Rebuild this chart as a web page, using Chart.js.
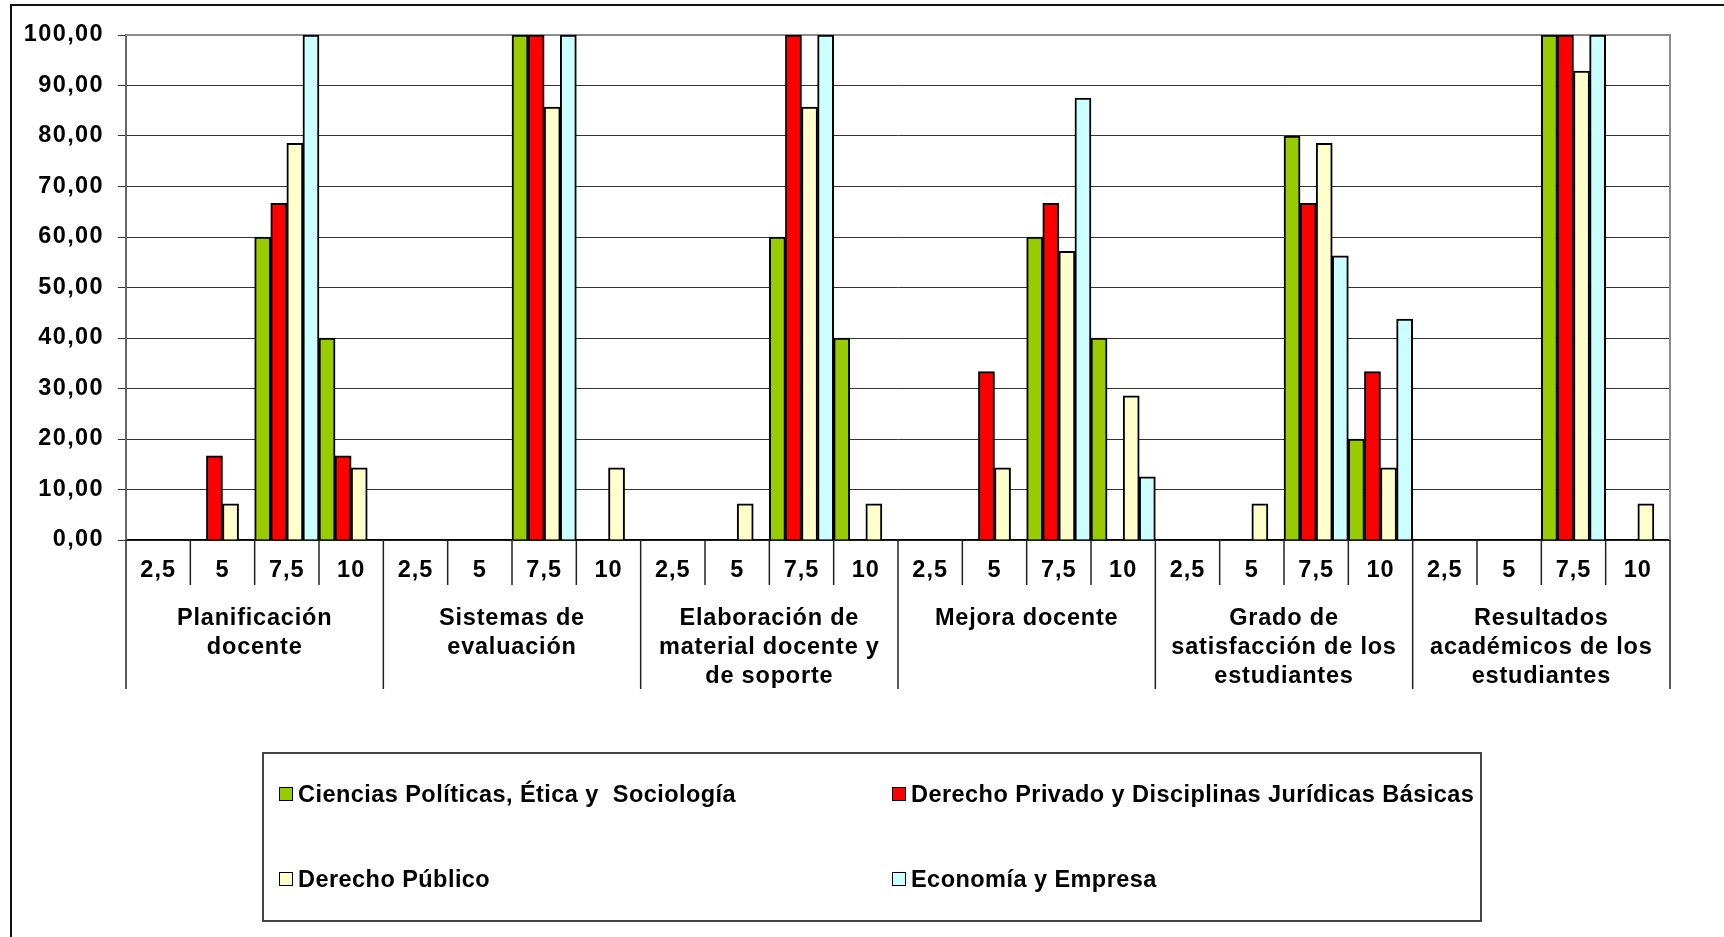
<!DOCTYPE html>
<html>
<head>
<meta charset="utf-8">
<script src="https://cdn.jsdelivr.net/npm/chart.js@4"></script>
<style>
  html, body { margin: 0; padding: 0; background: #fff; }
  #wrap { position: relative; width: 1724px; height: 937px; overflow: hidden; }
  #frame { position: absolute; left: 10px; top: 4px; width: 1800px; height: 1000px;
           border-left: 2px solid #111; border-top: 2px solid #111; }
  #chart { position: absolute; left: 0; top: 0; }
  #legend { position: absolute; left: 262px; top: 752px; width: 1220px; height: 170px;
            border: 2px solid #444; box-sizing: border-box;
            font: bold 23.5px "Liberation Sans", Arial, sans-serif; color: #000;
            letter-spacing: 0.45px; }
  .item { position: absolute; display: flex; align-items: center; white-space: pre; }
  .sw { width: 12px; height: 12px; border: 1.5px solid #000; margin-right: 5px; }
</style>
</head>
<body>
<div id="wrap">
  <div id="frame"></div>
  <canvas id="chart" width="1724" height="937"></canvas>
  <div id="legend"></div>
</div>
<script>
// scores given inside each block
const scores = ["2,5", "5", "7,5", "10"];
const groups = [
    ["Planificación", "docente"],
    ["Sistemas de", "evaluación"],
    ["Elaboración de", "material docente y", "de soporte"],
    ["Mejora docente"],
    ["Grado de", "satisfacción de los", "estudiantes"],
    ["Resultados", "académicos de los", "estudiantes"]
];

const seriesNames = [
    "Ciencias Políticas, Ética y  Sociología",
    "Derecho Privado y Disciplinas Jurídicas Básicas",
    "Derecho Público",
    "Economía y Empresa"
];
const seriesColors = ["#99cc00", "#ff0000", "#ffffcc", "#ccffff"];

// percentages, 24 values each (6 blocks x 4 scores)
const cienciasPoliticas = [0, 0, 60, 40,   0, 0, 100, 0,   0, 0, 60, 40,   0, 0, 60, 40,   0, 0, 80, 20,   0, 0, 100, 0];
const derechoPrivado   = [0, 16.67, 66.67, 16.67,   0, 0, 100, 0,   0, 0, 100, 0,   0, 33.33, 66.67, 0,   0, 0, 66.67, 33.33,   0, 0, 100, 0];
const derechoPublico   = [0, 7.14, 78.57, 14.29,   0, 0, 85.71, 14.29,   0, 7.14, 85.71, 7.14,   0, 14.29, 57.14, 28.57,   0, 7.14, 78.57, 14.29,   0, 0, 92.86, 7.14];
const economiaEmpresa  = [0, 0, 100, 0,   0, 0, 100, 0,   0, 0, 100, 0,   0, 0, 87.5, 12.5,   0, 0, 56.25, 43.75,   0, 0, 100, 0];

const yTicks = [0, 10, 20, 30, 40, 50, 60, 70, 80, 90, 100];

const labels = [];
groups.forEach(() => scores.forEach(s => labels.push(s)));
const groupLabels = groups;

const FONT = { family: '"Liberation Sans", Arial, sans-serif', size: 23.5, weight: 'bold' };
const spacing = { x: '1px', x2: '0.8px', y: '1.4px' };

// plot frame, separators under the x axis, wider label text
const framePlugin = {
    id: 'frame',
    afterLayout(chart) {
        Object.keys(spacing).forEach(id => {
            const s = chart.scales[id];
            if (!s || s._wrapped) return;
            const orig = s.drawLabels;
            s.drawLabels = function (area) {
                const c = this.ctx;
                const prev = c.letterSpacing;
                c.letterSpacing = spacing[id];
                orig.call(this, area);
                c.letterSpacing = prev || '0px';
            };
            s._wrapped = true;
        });
    },
    beforeDatasetsDraw(chart) {
        const { ctx, chartArea: a } = chart;
        ctx.save();
        ctx.strokeStyle = '#8c8c8c';
        ctx.lineWidth = 2;
        ctx.beginPath();
        ctx.moveTo(a.left, a.top);
        ctx.lineTo(a.right, a.top);
        ctx.lineTo(a.right, a.bottom);
        ctx.stroke();
        ctx.restore();
    },
    afterDraw(chart) {
        const { ctx, chartArea: a } = chart;
        const x = chart.scales.x;
        const x2 = chart.scales.x2;
        ctx.save();
        ctx.strokeStyle = '#222';
        ctx.lineWidth = 1.5;
        for (let i = 0; i <= labels.length; i++) {
            let px;
            if (i === 0) px = x.left;
            else if (i === labels.length) px = x.right;
            else px = (x.getPixelForValue(i - 1) + x.getPixelForValue(i)) / 2;
            const end = (i % scores.length === 0) ? x2.bottom : x.bottom - 3;
            ctx.beginPath();
            ctx.moveTo(px, a.bottom);
            ctx.lineTo(px, end);
            ctx.stroke();
        }
        ctx.restore();
    }
};

const datasets = [cienciasPoliticas, derechoPrivado, derechoPublico, economiaEmpresa].map((d, i) => ({
    label: seriesNames[i],
    data: d,
    backgroundColor: seriesColors[i],
    borderColor: '#000',
    borderWidth: 2,
    borderSkipped: 'bottom',
    barPercentage: 1,
    categoryPercentage: 1,
    xAxisID: 'x',
    yAxisID: 'y'
}));

new Chart(document.getElementById('chart').getContext('2d'), {
    type: 'bar',
    data: { labels: labels, datasets: datasets },
    options: {
        responsive: false,
        animation: false,
        layout: { padding: { left: 0, top: 35, right: 54, bottom: 248 } },
        plugins: { legend: { display: false }, tooltip: { enabled: false } },
        scales: {
            x: {
                type: 'category',
                position: 'bottom',
                weight: 0,
                offset: true,
                grid: { display: false, drawTicks: false },
                border: { display: true, color: '#000', width: 1.5 },
                ticks: { color: '#000', font: FONT, padding: 16, autoSkip: false, maxRotation: 0 },
                afterFit(s) { s.height = 48; }
            },
            x2: {
                type: 'category',
                position: 'bottom',
                weight: 1,
                labels: groupLabels,
                offset: true,
                grid: { display: false, drawTicks: false },
                border: { display: false },
                ticks: { color: '#000', font: Object.assign({}, FONT, { lineHeight: 1.24 }), padding: 16, autoSkip: false, maxRotation: 0 },
                afterFit(s) { s.height = 101; }
            },
            y: {
                min: 0,
                max: 100,
                afterBuildTicks(s) { s.ticks = yTicks.map(v => ({ value: v })); },
                grid: { color: '#333', lineWidth: 1, tickLength: 8, drawTicks: true },
                border: { display: true, color: '#666', width: 2 },
                ticks: {
                    color: '#000', font: FONT, padding: 14,
                    callback: v => v.toFixed(2).replace('.', ',')
                },
                afterFit(s) { s.width = 126; }
            }
        }
    },
    plugins: [framePlugin]
});

// boxed legend, two columns
const legend = document.getElementById('legend');
const pos = [[15, 40], [628, 40], [15, 125], [628, 125]];
seriesNames.forEach((name, i) => {
    const it = document.createElement('div');
    it.className = 'item';
    it.style.left = pos[i][0] + 'px';
    it.style.top = (pos[i][1] - 15) + 'px';
    it.style.height = '30px';
    const sw = document.createElement('span');
    sw.className = 'sw';
    sw.style.background = seriesColors[i];
    it.appendChild(sw);
    it.appendChild(document.createTextNode(name));
    legend.appendChild(it);
});
</script>
</body>
</html>
